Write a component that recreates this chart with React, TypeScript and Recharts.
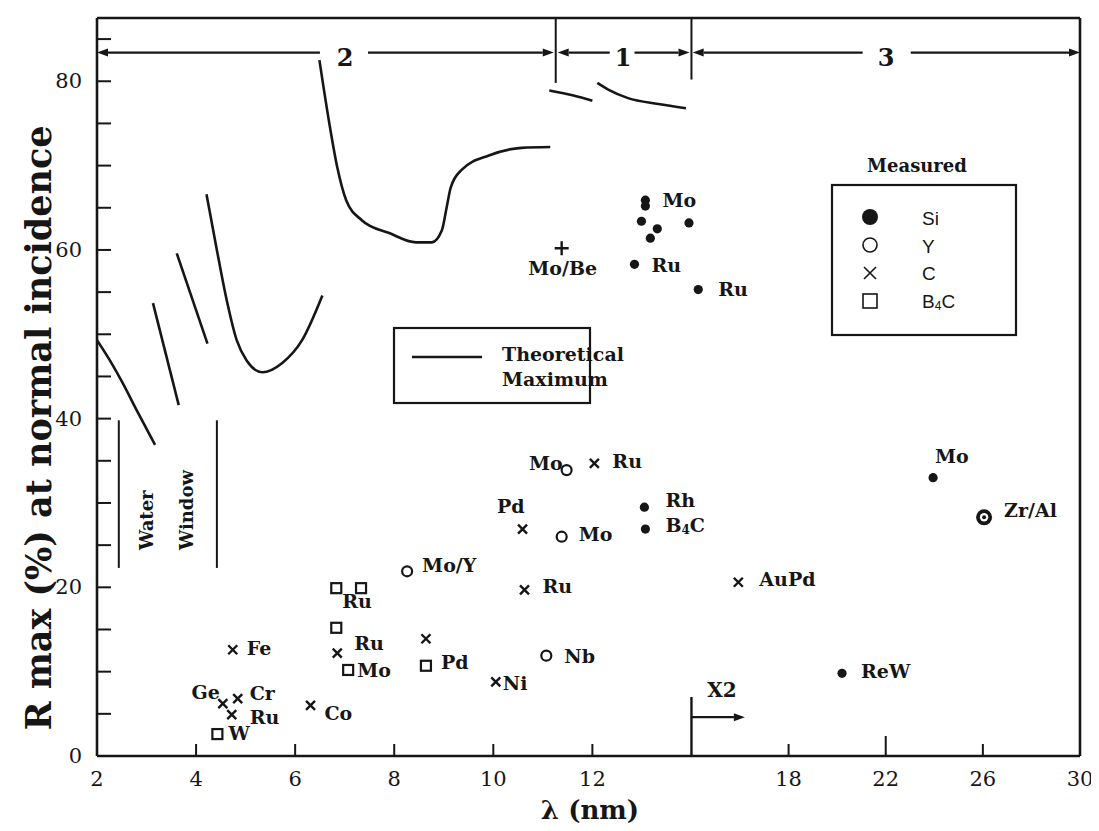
import { ComposedChart, Line, Scatter, XAxis, YAxis, ReferenceLine } from "recharts";

const INK = "#161616";
const SERIF = "'DejaVu Serif', serif";
const SANS = "'Liberation Sans', Arial, sans-serif";

// Above 14 nm the axis is compressed ("X2").
const BREAK = 14;
const SQUEEZE = 2.04;
const toU = (lam: number) => (lam <= BREAK ? lam : BREAK + (lam - BREAK) / SQUEEZE);
const fromU = (u: number) => Math.round(u <= BREAK ? u : BREAK + (u - BREAK) * SQUEEZE);

const X_TICKS = [2, 4, 6, 8, 10, 12, 14, 18, 22, 26, 30];
const Y_TICKS = [0, 5, 10, 15, 20, 25, 30, 35, 40, 45, 50, 55, 60, 65, 70, 75, 80, 85];
const Y_MAX = 87.5;

// Theoretical maximum, [lambda nm, R %]
const curveA = [[2.0, 49.3], [2.26, 46.9], [2.52, 44.2], [2.8, 41.0], [3.17, 36.9]];
const curveB = [[3.13, 53.7], [3.65, 41.6]];
const curveC = [[3.61, 59.6], [4.23, 48.9]];
const curveD = [[4.21, 66.6], [4.41, 60.3], [4.62, 54.0], [4.82, 49.3], [5.02, 46.9], [5.34, 45.5], [5.74, 46.6], [6.14, 49.3], [6.55, 54.6]];
const curveE = [[6.49, 82.5], [6.69, 75.0], [6.85, 69.8], [7.03, 65.9], [7.35, 63.5], [7.9, 62.0], [8.44, 60.9], [8.76, 60.9], [8.96, 62.3], [9.06, 65.1], [9.14, 67.4], [9.36, 69.5], [9.91, 71.2], [10.57, 72.1], [11.15, 72.2]];
const curveF = [[11.13, 78.9], [11.62, 78.3], [12.0, 77.7]];
const curveG = [[12.1, 79.8], [12.32, 79.0], [12.72, 78.0], [13.33, 77.3], [13.89, 76.8]];
const curves = [curveA, curveB, curveC, curveD, curveE, curveF, curveG];

// Measured: Si spacer (filled circle)
const siLambda = [13.07, 13.07, 12.99, 13.31, 13.17, 13.95, 12.85, 14.28, 13.05, 13.07, 23.95, 20.2];
const siR = [65.9, 65.2, 63.4, 62.5, 61.4, 63.2, 58.3, 55.3, 29.5, 26.9, 33.0, 9.8];
const siNames = ["Mo", "", "", "", "", "", "Ru", "Ru", "Rh", "B4C", "Mo", "ReW"];

// Zr/Al
const zrLambda = [26.05];
const zrR = [28.3];
const zrNames = ["Zr/Al"];

// Y spacer (open circle)
const yLambda = [11.48, 11.38, 8.26, 11.07];
const yR = [33.9, 26.0, 21.9, 11.9];
const yNames = ["Mo", "Mo", "Mo/Y", "Nb"];

// C spacer (cross)
const cLambda = [12.04, 10.59, 10.63, 8.64, 10.05, 15.93, 4.74, 4.54, 4.84, 4.72, 6.31, 6.85];
const cR = [34.7, 26.9, 19.7, 13.9, 8.8, 20.6, 12.6, 6.2, 6.8, 4.9, 6.0, 12.2];
const cNames = ["Ru", "Pd", "Ru", "", "Ni", "AuPd", "Fe", "Ge", "Cr", "Ru", "Co", "Ru"];

// B4C spacer (square)
const bLambda = [6.83, 7.33, 6.83, 7.07, 8.64, 4.43];
const bR = [19.9, 19.9, 15.2, 10.2, 10.7, 2.6];
const bNames = ["Ru", "", "", "Mo", "Pd", "W"];

// Mo/Be
const beLambda = [11.38];
const beR = [60.2];
const beNames = ["Mo/Be"];

// label placement relative to the marker: [dx, dy, anchor]
type Pos = [number, number, "start" | "middle" | "end"];
const siPos: Pos[] = [[17, 0, "start"], [0, 0, "start"], [0, 0, "start"], [0, 0, "start"], [0, 0, "start"], [0, 0, "start"], [17, 1, "start"], [20, -1, "start"], [21, -7, "start"], [20, -4, "start"], [2, -22, "start"], [19, -2, "start"]];
const zrPos: Pos[] = [[20, -7, "start"]];
const yPos: Pos[] = [[-4, -7, "end"], [17, -3, "start"], [15, -6, "start"], [18, 0, "start"]];
const cPos: Pos[] = [[18, -2, "start"], [2, -23, "end"], [18, -4, "start"], [0, 0, "start"], [7, 1, "start"], [21, -3, "start"], [14, -2, "start"], [-3, -12, "end"], [12, -6, "start"], [18, 2, "start"], [14, 8, "start"], [17, -10, "start"]];
const bPos: Pos[] = [[6, 13, "start"], [0, 0, "start"], [0, 0, "start"], [9, 0, "start"], [15, -4, "start"], [11, -1, "start"]];
const bePos: Pos[] = [[1, 20, "middle"]];

const rows = (lam: number[], r: number[], names: string[]) =>
  lam.map((l, i) => ({ u: toU(l), r: r[i], name: names[i], i }));
const curveRows = (c: number[][]) => c.map(([l, r]) => ({ u: toU(l), r }));

function LabelText({ x, y, text, anchor }: { x: number; y: number; text: string; anchor: string }) {
  const common = {
    x, y, textAnchor: anchor as any, dominantBaseline: "central" as any,
    fontFamily: SERIF, fontWeight: 700, fontSize: 19, fill: INK,
  };
  if (text === "B4C")
    return (
      <text {...common}>
        B<tspan fontSize={12} dy={5}>4</tspan>
        <tspan dy={-5}>C</tspan>
      </text>
    );
  return <text {...common}>{text}</text>;
}

function marker(kind: string, cx: number, cy: number) {
  switch (kind) {
    case "si":
      return <circle cx={cx} cy={cy} r={4.6} fill={INK} />;
    case "zr":
      return (
        <g>
          <circle cx={cx} cy={cy} r={8} fill={INK} />
          <circle cx={cx} cy={cy} r={4.2} fill="#fff" />
          <circle cx={cx} cy={cy} r={2} fill={INK} />
        </g>
      );
    case "y":
      return <circle cx={cx} cy={cy} r={5} fill="#fff" stroke={INK} strokeWidth={2.2} />;
    case "c":
      return (
        <path d={`M${cx - 4.5},${cy - 4.5}L${cx + 4.5},${cy + 4.5}M${cx - 4.5},${cy + 4.5}L${cx + 4.5},${cy - 4.5}`} stroke={INK} strokeWidth={2.4} />
      );
    case "b":
      return <rect x={cx - 5} y={cy - 5} width={10} height={10} fill="#fff" stroke={INK} strokeWidth={2.2} />;
    default:
      return (
        <path d={`M${cx - 7},${cy}L${cx + 7},${cy}M${cx},${cy - 7}L${cx},${cy + 7}`} stroke={INK} strokeWidth={2.4} />
      );
  }
}

const makeShape = (kind: string, pos: Pos[]) => (p: any) => {
  const { cx, cy, payload } = p;
  const [dx, dy, anchor] = pos[payload.i];
  return (
    <g>
      {marker(kind, cx, cy)}
      {payload.name ? <LabelText x={cx + dx} y={cy + dy} text={payload.name} anchor={anchor} /> : null}
    </g>
  );
};

function XTick(p: any) {
  const { x, y, payload } = p;
  const lam = fromU(payload.value);
  if (lam === 14) return <g />;
  return (
    <g>
      <line x1={x} x2={x} y1={y} y2={y - (lam === 22 ? 20 : 12)} stroke={INK} strokeWidth={2} />
      <text x={x} y={y + 23} textAnchor="middle" dominantBaseline="central" fontFamily={SERIF} fontSize={21} fill={INK}>
        {lam}
      </text>
    </g>
  );
}

function YTick(p: any) {
  const { x, y, payload } = p;
  const v = payload.value;
  return (
    <g>
      {v > 0 && <line x1={x} x2={x + 14} y1={y} y2={y} stroke={INK} strokeWidth={2} />}
      {v % 20 === 0 && (
        <text x={x - 15} y={y} textAnchor="end" dominantBaseline="central" fontFamily={SERIF} fontSize={21} fill={INK}>
          {v}
        </text>
      )}
    </g>
  );
}

// line with an arrowhead at (x1, y1)
function Arrow(p: any) {
  const { x1, y1, x2, y2 } = p;
  const ang = Math.atan2(y1 - y2, x1 - x2);
  const L = 11;
  const W = 4;
  const bx = x1 - L * Math.cos(ang);
  const by = y1 - L * Math.sin(ang);
  const nx = -Math.sin(ang) * W;
  const ny = Math.cos(ang) * W;
  return (
    <g>
      <line x1={bx} y1={by} x2={x2} y2={y2} stroke={INK} strokeWidth={2.2} />
      <polygon points={`${x1},${y1} ${bx + nx},${by + ny} ${bx - nx},${by - ny}`} fill={INK} />
    </g>
  );
}

// region bar on top: [tip, inner end] pairs, nm
const BAR_R = 83.4;
const barArrows = [[2, 6.5], [11.22, 7.47], [11.3, 12.35], [13.96, 12.85], [14.05, 21.05], [30, 23.03]];
const barTexts = [["2", 337], ["1", 615], ["3", 878]] as const;

export default function App() {
  return (
    <div style={{ width: 1091, height: 823, background: "#fff" }}>
      <ComposedChart width={1091} height={823} margin={{ top: 10, right: 19, bottom: 0, left: 0 }}>
        <XAxis
          type="number"
          dataKey="u"
          domain={[2, toU(30)]}
          ticks={X_TICKS.map(toU)}
          interval={0}
          allowDataOverflow
          height={75}
          tickSize={0}
          tickMargin={0}
          tickLine={false}
          axisLine={{ stroke: INK, strokeWidth: 2.6 }}
          tick={XTick}
        />
        <YAxis
          type="number"
          dataKey="r"
          domain={[0, Y_MAX]}
          ticks={Y_TICKS}
          interval={0}
          allowDataOverflow
          width={89}
          tickSize={0}
          tickMargin={0}
          tickLine={false}
          axisLine={{ stroke: INK, strokeWidth: 2.6 }}
          tick={YTick}
        />

        <ReferenceLine y={Y_MAX} stroke={INK} strokeWidth={2.6} />
        <ReferenceLine x={toU(30)} stroke={INK} strokeWidth={2.6} />

        {/* region separators and arrows */}
        <ReferenceLine segment={[{ x: toU(11.26), y: 79.8 }, { x: toU(11.26), y: Y_MAX }]} stroke={INK} strokeWidth={2} />
        <ReferenceLine segment={[{ x: 14, y: 80.2 }, { x: 14, y: Y_MAX }]} stroke={INK} strokeWidth={2} />
        {barArrows.map(([a, b], k) => (
          <ReferenceLine key={k} segment={[{ x: toU(a), y: BAR_R }, { x: toU(b), y: BAR_R }]} shape={Arrow} />
        ))}

        {/* water window */}
        <ReferenceLine segment={[{ x: 2.44, y: 39.8 }, { x: 2.44, y: 22.3 }]} stroke={INK} strokeWidth={2} />
        <ReferenceLine segment={[{ x: 4.42, y: 39.8 }, { x: 4.42, y: 22.3 }]} stroke={INK} strokeWidth={2} />

        {/* X2 marker */}
        <ReferenceLine segment={[{ x: 14, y: 0 }, { x: 14, y: 7 }]} stroke={INK} strokeWidth={2.4} />
        <ReferenceLine segment={[{ x: toU(16.2), y: 4.6 }, { x: 14, y: 4.6 }]} shape={Arrow} />

        {curves.map((c, k) => (
          <Line
            key={k}
            data={curveRows(c)}
            dataKey="r"
            type="monotone"
            stroke={INK}
            strokeWidth={2.6}
            dot={false}
            activeDot={false}
            isAnimationActive={false}
          />
        ))}

        <Scatter data={rows(siLambda, siR, siNames)} shape={makeShape("si", siPos)} isAnimationActive={false} />
        <Scatter data={rows(zrLambda, zrR, zrNames)} shape={makeShape("zr", zrPos)} isAnimationActive={false} />
        <Scatter data={rows(yLambda, yR, yNames)} shape={makeShape("y", yPos)} isAnimationActive={false} />
        <Scatter data={rows(cLambda, cR, cNames)} shape={makeShape("c", cPos)} isAnimationActive={false} />
        <Scatter data={rows(bLambda, bR, bNames)} shape={makeShape("b", bPos)} isAnimationActive={false} />
        <Scatter data={rows(beLambda, beR, beNames)} shape={makeShape("plus", bePos)} isAnimationActive={false} />

        {/* annotations */}
        <g fontFamily={SERIF} fill={INK}>
          {barTexts.map(([t, x]) => (
            <text key={t} x={x} y={49} textAnchor="middle" dominantBaseline="central" fontSize={24} fontWeight={700}>
              {t}
            </text>
          ))}
          <text x={714} y={682} textAnchor="middle" dominantBaseline="central" fontSize={20} fontWeight={700}>
            X2
          </text>
          <text transform="translate(138,542) rotate(-90)" dominantBaseline="central" fontSize={18} fontWeight={700}>
            Water
          </text>
          <text transform="translate(178,542) rotate(-90)" dominantBaseline="central" fontSize={18} fontWeight={700}>
            Window
          </text>
          <text transform="translate(30,420) rotate(-90)" textAnchor="middle" dominantBaseline="central" fontSize={35} fontWeight={700}>
            R max (%) at normal incidence
          </text>
          <text x={582} y={802} textAnchor="middle" dominantBaseline="central" fontSize={26} fontWeight={700}>
            λ  (nm)
          </text>

          {/* theoretical legend */}
          <rect x={386} y={320} width={196} height={75} fill="none" stroke={INK} strokeWidth={2.2} />
          <line x1={404} x2={474} y1={349} y2={349} stroke={INK} strokeWidth={2.6} />
          <text x={494} y={346} dominantBaseline="central" fontSize={19} fontWeight={700}>
            Theoretical
          </text>
          <text x={494} y={371} dominantBaseline="central" fontSize={19} fontWeight={700}>
            Maximum
          </text>

          {/* measured legend */}
          <text x={909} y={157} textAnchor="middle" dominantBaseline="central" fontSize={18} fontWeight={700}>
            Measured
          </text>
          <rect x={824} y={177} width={184} height={150} fill="none" stroke={INK} strokeWidth={2.2} />
          <circle cx={862} cy={209} r={8} fill={INK} />
          <circle cx={862} cy={237} r={7} fill="none" stroke={INK} strokeWidth={1.6} />
          <path d="M856,259L868,271M856,271L868,259" stroke={INK} strokeWidth={1.6} />
          <rect x={855} y={286} width={14} height={14} fill="none" stroke={INK} strokeWidth={1.6} />
          <g fontFamily={SANS} fontSize={19}>
            <text x={914} y={210} dominantBaseline="central">Si</text>
            <text x={914} y={238} dominantBaseline="central">Y</text>
            <text x={914} y={265} dominantBaseline="central">C</text>
            <text x={914} y={293} dominantBaseline="central">
              B<tspan fontSize={12} dy={5}>4</tspan>
              <tspan dy={-5}>C</tspan>
            </text>
          </g>
        </g>
      </ComposedChart>
    </div>
  );
}
